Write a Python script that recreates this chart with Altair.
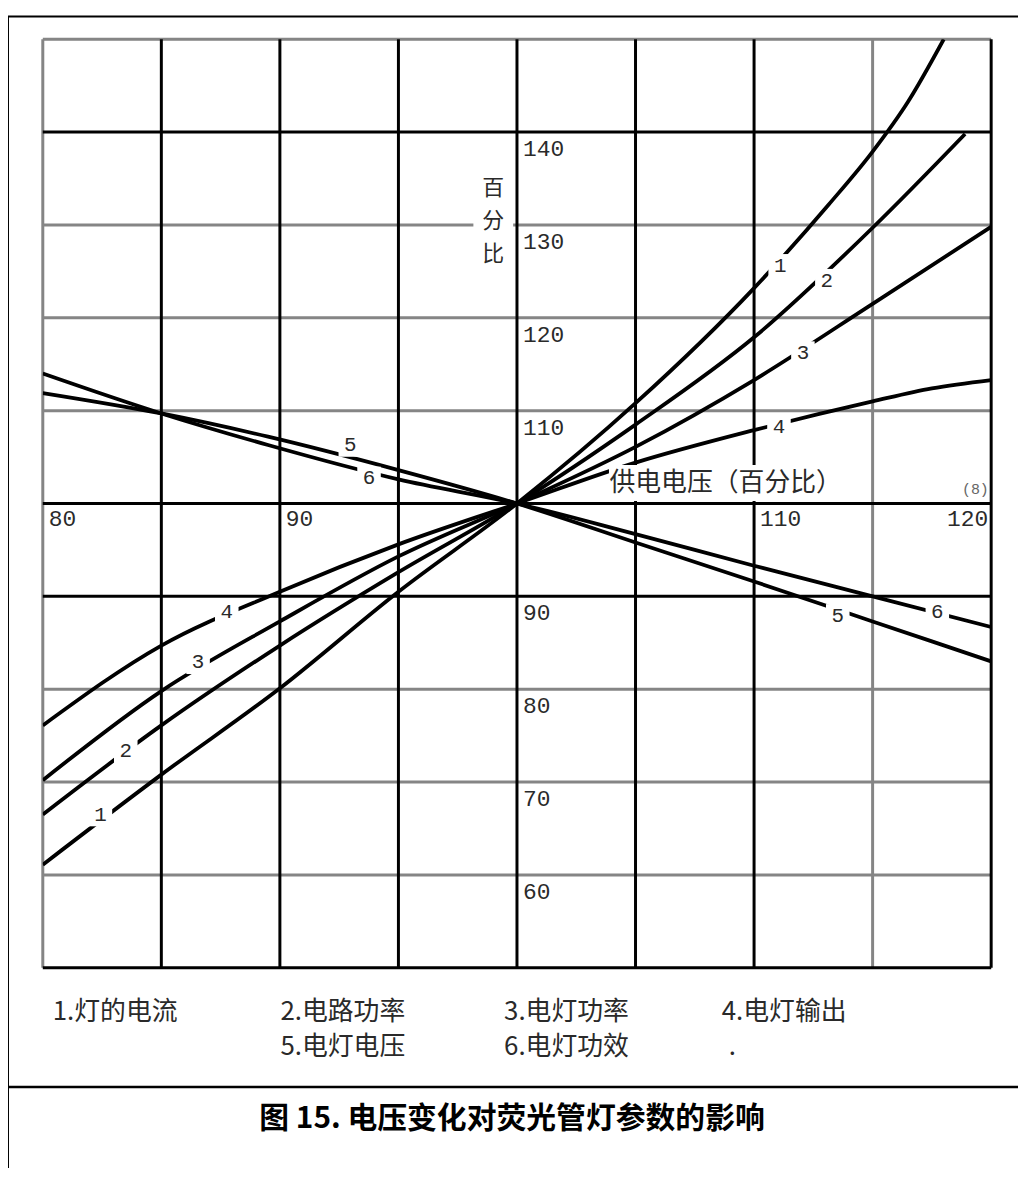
import altair as alt
import pandas as pd

# ---------------- data ----------------
# 1. 灯的电流
current_x = [80, 85, 90, 95, 100, 105, 110, 113.15, 115, 116.5, 118]
current_y = [61.1, 70.8, 80.1, 90.5, 100, 110.8, 123.2, 132.2, 137.9, 143.3, 150]
# 2. 电路功率
circuit_x = [80, 85, 90, 95, 100, 105, 110, 115, 118.9]
circuit_y = [66.5, 76.1, 84.7, 92.6, 100, 108.5, 117.9, 129.7, 139.8]
# 3. 电灯功率
lamppow_x = [80, 85, 90, 95, 100, 105, 110, 115, 120]
lamppow_y = [70.2, 79.8, 87.3, 94.3, 100, 106.1, 113.3, 121.5, 129.8]
# 4. 电灯输出
output_x = [80, 85, 90, 95, 100, 105, 110, 115, 117.5, 120]
output_y = [76.1, 84.7, 90.5, 95.6, 100, 104.4, 107.9, 111.0, 112.4, 113.3]
# 5. 电灯电压
lampvolt_x = [80, 85, 89.5, 95, 100, 105, 110, 115, 120]
lampvolt_y = [111.9, 109.7, 107.2, 103.6, 100, 95.8, 91.6, 87.3, 83.0]
# 6. 电灯功效
efficacy_x = [80, 85, 89.5, 95, 100, 105, 110, 115, 120]
efficacy_y = [114.0, 109.7, 106.3, 102.6, 100, 96.7, 93.3, 90.0, 86.7]

# grid lines
vgrid_black = [85, 90, 95, 100, 105, 110, 120]
vgrid_gray = [80, 115]
hgrid_black = [140, 100, 90, 50]
hgrid_gray = [150, 130, 120, 110, 80, 70, 60]

# tick labels
xtick_left = [80, 90, 110]
xtick_right = [120]
ytick_labels = [140, 130, 120, 110, 90, 80, 70, 60]

# curve number labels
clabel_text = ["1", "2", "3", "4", "1", "2", "3", "4", "5", "6", "5", "6"]
clabel_x = [111.1, 113.07, 112.06, 111.05, 82.43, 83.5, 86.55, 87.76, 92.97, 93.76, 113.53, 117.73]
clabel_y = [125.6, 124.0, 116.2, 108.2, 66.5, 73.3, 82.9, 88.3, 106.3, 102.7, 87.9, 88.3]

# axis titles
xtitle_text = ["供电电压（百分比）"]
xtitle_x = [103.9]
xtitle_y = [102.2]
ytitle_text = ["百\n分\n比"]
ytitle_x = [99.0]
ytitle_y = [135.0]
unit_text = ["(8)"]
unit_x = [119.9]
unit_y = [101.6]

# legend and caption
legend_row1 = ["1.灯的电流", "2.电路功率", "3.电灯功率", "4.电灯输出"]
legend_row2 = ["5.电灯电压", "6.电灯功效", "."]
caption = "图 15. 电压变化对荧光管灯参数的影响"

W, H = 954, 934

series = [
    ("1", current_x, current_y),
    ("2", circuit_x, circuit_y),
    ("3", lamppow_x, lamppow_y),
    ("4", output_x, output_y),
    ("5", lampvolt_x, lampvolt_y),
    ("6", efficacy_x, efficacy_y),
]
rows = []
for sid, xs_, ys_ in series:
    for xv, yv in zip(xs_, ys_):
        rows.append({"series": sid, "x": xv, "y": yv})
curves = pd.DataFrame(rows)

xs = alt.Scale(domain=[80, 120], nice=False, zero=False)
ys = alt.Scale(domain=[50, 150], nice=False, zero=False)
X = lambda f: alt.X(f, type="quantitative", scale=xs, axis=None)
Y = lambda f: alt.Y(f, type="quantitative", scale=ys, axis=None)

GRAY = "#858585"
TXT = "#2a2a2a"
CJK = "Noto Sans CJK SC"
MONO = "Liberation Mono"

vg_gray = alt.Chart(pd.DataFrame({"v": vgrid_gray})).mark_rule(color=GRAY, strokeWidth=3).encode(x=X("v"))
hg_gray = alt.Chart(pd.DataFrame({"h": hgrid_gray})).mark_rule(color=GRAY, strokeWidth=3).encode(y=Y("h"))
vg_black = alt.Chart(pd.DataFrame({"v": vgrid_black})).mark_rule(color="black", strokeWidth=3).encode(x=X("v"))
hg_black = alt.Chart(pd.DataFrame({"h": hgrid_black})).mark_rule(color="black", strokeWidth=3).encode(y=Y("h"))

lines = alt.Chart(curves).mark_line(color="black", strokeWidth=3.8, interpolate="monotone", clip=True).encode(
    x=X("x"), y=Y("y"), detail="series:N", order="x:Q"
)

# white knock-out boxes behind labels (break the lines like the original)
cl_df = pd.DataFrame({"t": clabel_text, "x": clabel_x, "y": clabel_y})
cl_box = alt.Chart(cl_df).mark_point(shape="square", filled=True, color="white", opacity=1,
                                      strokeWidth=0, size=560).encode(x=X("x"), y=Y("y"))
cl_text = alt.Chart(cl_df).mark_text(font=MONO, fontSize=21, color=TXT, align="center",
                                      baseline="middle").encode(x=X("x"), y=Y("y"), text="t:N")

xt_df = pd.DataFrame({"t": xtitle_text, "x": xtitle_x, "y": xtitle_y})
xt_box = alt.Chart(xt_df).mark_point(
    shape="M-1,-0.148 L1,-0.148 L1,0.148 L-1,0.148 Z", filled=True, color="white", opacity=1,
    strokeWidth=0, size=60000, xOffset=122).encode(x=X("x"), y=Y("y"))
xt_text = alt.Chart(xt_df).mark_text(font=CJK, fontSize=26, color=TXT, align="left",
                                      baseline="middle").encode(x=X("x"), y=Y("y"), text="t:N")

yt_df = pd.DataFrame({"t": ytitle_text, "x": ytitle_x, "y": ytitle_y})
yt_box = alt.Chart(yt_df).mark_point(
    shape="M-1,-2.3 L1,-2.3 L1,2.3 L-1,2.3 Z", filled=True, color="white", opacity=1,
    strokeWidth=0, size=1600, yOffset=45).encode(x=X("x"), y=Y("y"))
yt_text = alt.Chart(yt_df).mark_text(font=CJK, fontSize=22, color=TXT, align="center", baseline="top",
                                      lineBreak="\n", lineHeight=33).encode(x=X("x"), y=Y("y"), text="t:N")

unit = alt.Chart(pd.DataFrame({"t": unit_text, "x": unit_x, "y": unit_y})).mark_text(
    font=MONO, fontSize=15, color="#666", align="right", baseline="middle").encode(
    x=X("x"), y=Y("y"), text="t:N")

xl_left = alt.Chart(pd.DataFrame({"v": xtick_left})).transform_calculate(zero="100").mark_text(
    font=MONO, fontSize=23, color=TXT, align="left", baseline="middle", dx=6, dy=16).encode(
    x=X("v"), y=alt.Y("zero:Q", scale=ys, axis=None), text="v:N")
xl_right = alt.Chart(pd.DataFrame({"v": xtick_right})).transform_calculate(zero="100").mark_text(
    font=MONO, fontSize=23, color=TXT, align="right", baseline="middle", dx=-3, dy=16).encode(
    x=X("v"), y=alt.Y("zero:Q", scale=ys, axis=None), text="v:N")
yl = alt.Chart(pd.DataFrame({"v": ytick_labels})).transform_calculate(zero="100").mark_text(
    font=MONO, fontSize=23, color=TXT, align="left", baseline="middle", dx=6, dy=17).encode(
    x=alt.X("zero:Q", scale=xs, axis=None), y=Y("v"), text="v:N")

# decoration outside the plot: frame, legend, caption
frame_left = alt.Chart().mark_rule(color="black", strokeWidth=2).encode(
    x=alt.value(-35), y=alt.value(-23), y2=alt.value(1140))
frame_top = alt.Chart().mark_rule(color="black", strokeWidth=2).encode(
    x=alt.value(-36), x2=alt.value(990), y=alt.value(-23))
separator = alt.Chart().mark_rule(color="black", strokeWidth=2.5).encode(
    x=alt.value(-36), x2=alt.value(990), y=alt.value(1054))

leg_x1 = [10, 239, 464, 683]
leg_x2 = [239, 464, 690]
leg1 = alt.Chart(pd.DataFrame({"t": legend_row1, "px": leg_x1})).mark_text(
    font=CJK, fontSize=26, color=TXT, align="left", baseline="middle").encode(
    x=alt.X("px:Q", scale=None), y=alt.value(979), text="t:N")
leg2 = alt.Chart(pd.DataFrame({"t": legend_row2, "px": leg_x2})).mark_text(
    font=CJK, fontSize=26, color=TXT, align="left", baseline="middle").encode(
    x=alt.X("px:Q", scale=None), y=alt.value(1014), text="t:N")
cap = alt.Chart(pd.DataFrame({"t": [caption]})).mark_text(
    font=CJK, fontSize=30, fontWeight="bold", color="black", align="center", baseline="middle").encode(
    x=alt.value(472), y=alt.value(1086), text="t:N")

chart = alt.layer(
    vg_gray, hg_gray, vg_black, hg_black,
    lines,
    cl_box, xt_box, yt_box,
    cl_text, xt_text, yt_text, unit,
    xl_left, xl_right, yl,
    frame_left, frame_top, separator, leg1, leg2, cap,
).properties(
    width=W, height=H,
    autosize=alt.AutoSizeParams(type="none"),
    padding={"left": 35, "top": 28, "right": 27, "bottom": 198},
).configure_view(stroke=None).configure(background="white")

chart.save("out.html", embed_options={"renderer": "svg", "actions": False})
